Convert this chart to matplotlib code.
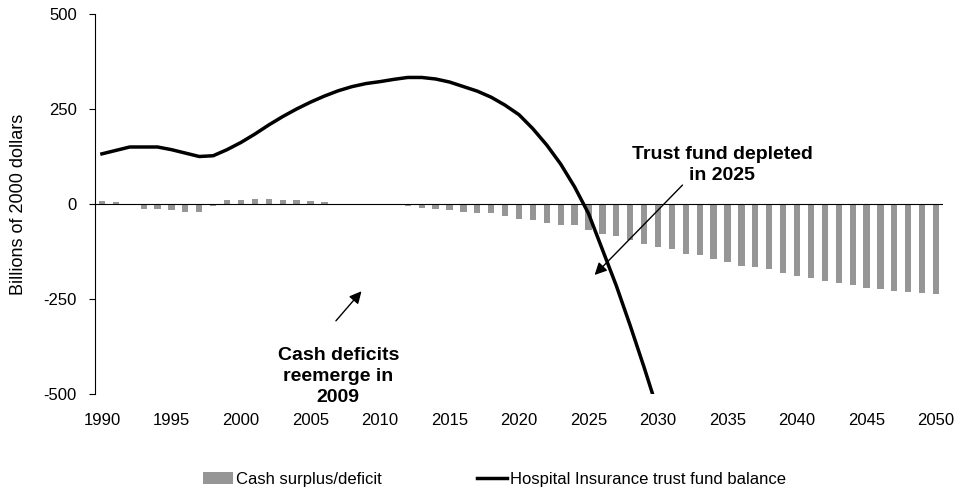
import numpy as np
import matplotlib.pyplot as plt

plt.rcParams['font.family'] = ['Liberation Sans', 'DejaVu Sans']
plt.rcParams['axes.unicode_minus'] = False

years = np.arange(1990, 2051)
cash = [7, 6, 0, -12, -12, -15, -20, -20, -4, 11,
        11, 14, 14, 11, 11, 8, 6, 0, 0, -1,
        -3, -3, -6, -11, -13, -17, -20, -23, -25, -32,
        -39, -43, -49, -56, -56, -69, -80, -85, -96, -104,
        -112, -119, -131, -135, -146, -153, -162, -167, -172, -182,
        -190, -196, -203, -208, -214, -220, -224, -228, -232, -235,
        -238]

fund_years = np.arange(1990, 2031)
fund = [132, 141, 150, 150, 150, 143, 134, 125, 127, 143,
        162, 184, 208, 230, 250, 268, 284, 298, 309, 317,
        322, 328, 333, 333, 329, 321, 309, 297, 281, 260,
        235, 198, 155, 105, 45, -25, -120, -215, -320, -430,
        -545]

fig = plt.figure(figsize=(9.77, 4.9), dpi=100)
ax = fig.add_axes([95/977, 1 - 394/490, (943 - 95)/977, (394 - 14)/490])

bars = ax.bar(years, cash, width=0.45, color='#969696', label='Cash surplus/deficit', zorder=2)
ax.axhline(0, color='black', lw=0.8, zorder=3)
line, = ax.plot(fund_years, fund, color='black', lw=2.5, label='Hospital Insurance trust fund balance',
                zorder=4, solid_joinstyle='round')

ax.set_xlim(1989.5, 2050.5)
ax.set_ylim(-500, 500)
ax.set_yticks([-500, -250, 0, 250, 500])
ax.set_xticks(np.arange(1990, 2051, 5))
for s in ['top', 'right', 'bottom']:
    ax.spines[s].set_visible(False)
ax.spines['left'].set_linewidth(0.8)
ax.tick_params(axis='y', direction='out', length=4, width=0.8, pad=9, labelsize=12)
ax.tick_params(axis='x', length=0, pad=14, labelsize=12)
ax.set_ylabel('Billions of 2000 dollars', fontsize=13)
ax.yaxis.set_label_coords(-0.080, 0.5)

ax.annotate('', xy=(2008.8, -224), xytext=(2006.7, -313),
            arrowprops=dict(arrowstyle='-|>', color='black', lw=1, mutation_scale=18))
ax.text(2007.0, -455, 'Cash deficits\nreemerge in\n2009', ha='center', va='center',
        fontsize=14, fontweight='bold', linespacing=1.3)

ax.annotate('', xy=(2025.3, -192), xytext=(2031.9, 55),
            arrowprops=dict(arrowstyle='-|>', color='black', lw=1, mutation_scale=18))
ax.text(2034.6, 103, 'Trust fund depleted\nin 2025', ha='center', va='center',
        fontsize=14, fontweight='bold', linespacing=1.3)

fig.legend([bars, line], [bars.get_label(), line.get_label()],
           loc='center left', bbox_to_anchor=(203/977, 1 - 479/490), ncol=2, frameon=False,
           fontsize=12, handlelength=1.8, handletextpad=0.2, columnspacing=5.7,
           borderpad=0, borderaxespad=0)

fig.savefig('out.png', dpi=100)
